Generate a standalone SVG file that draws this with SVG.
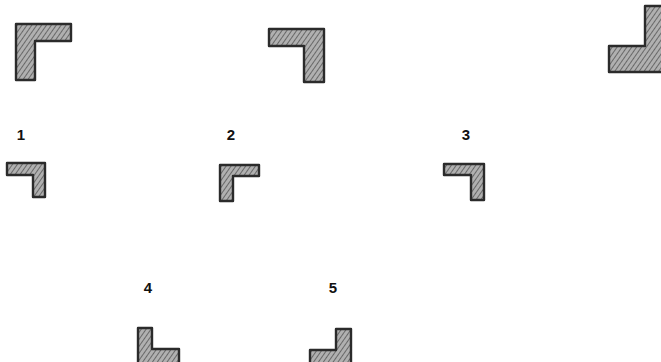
<svg xmlns="http://www.w3.org/2000/svg" width="661" height="362" viewBox="0 0 661 362">
  <defs>
    <pattern id="hatch" width="4" height="4" patternUnits="userSpaceOnUse" patternTransform="rotate(35)">
      <rect width="4" height="4" fill="#b0b0b0"/>
      <line x1="0" y1="0" x2="0" y2="4" stroke="#555555" stroke-width="1.6"/>
    </pattern>
  </defs>
  <style>
    .angle { fill: url(#hatch); stroke: #2b2b2b; stroke-width: 2.4; stroke-linejoin: round; }
    .lbl { font-family: "Liberation Sans", Arial, sans-serif; font-size: 15px; font-weight: bold; fill: #111; text-anchor: middle; }
  </style>
  <rect width="661" height="362" fill="#ffffff"/>
  <g id="shapeA"><path class="angle" d="M16,24 H71 V41 H35 V80 H16 Z"/></g>
  <g id="shapeB"><path class="angle" d="M269,29 H324 V82 H304 V46 H269 Z"/></g>
  <g id="shapeC"><path class="angle" d="M609,46 H645 V6 H668 V72 H609 Z"/></g>
  <g id="item1">
    <text class="lbl" x="21" y="140">1</text>
    <path class="angle" d="M7,163 H45 V197 H33 V175 H7 Z"/>
  </g>
  <g id="item2">
    <text class="lbl" x="231" y="140">2</text>
    <path class="angle" d="M220,165 H259 V176 H233 V201 H220 Z"/>
  </g>
  <g id="item3">
    <text class="lbl" x="466" y="140">3</text>
    <path class="angle" d="M444,164 H484 V200 H471 V175 H444 Z"/>
  </g>
  <g id="item4">
    <text class="lbl" x="148" y="293">4</text>
    <path class="angle" d="M138,328 H152 V349 H179 V366 H138 Z"/>
  </g>
  <g id="item5">
    <text class="lbl" x="333" y="293">5</text>
    <path class="angle" d="M310,350 H336 V329 H351 V366 H310 Z"/>
  </g>
  <g id="connectors"/>
</svg>
